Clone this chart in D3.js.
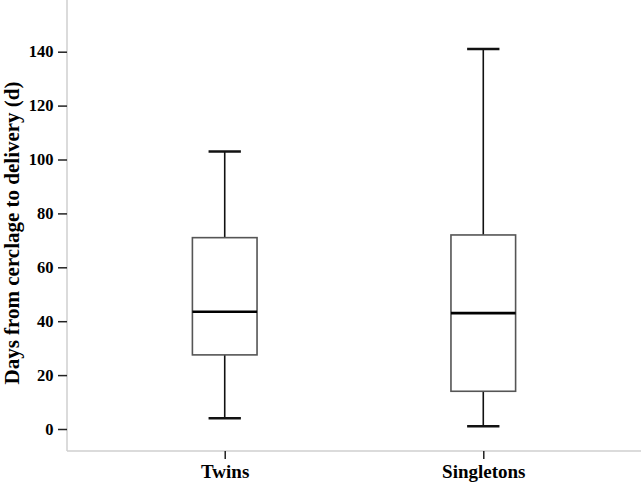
<!DOCTYPE html>
<html>
<head>
<meta charset="utf-8">
<script src="https://cdn.jsdelivr.net/npm/d3@7"></script>
<style>
  html, body { margin: 0; padding: 0; background: #fff; }
  svg { display: block; }
  text { font-family: "Liberation Serif", "Times New Roman", serif; font-weight: bold; fill: #000; }
</style>
</head>
<body>
<svg id="chart" width="644" height="488"></svg>
<script>
const categories = ["Twins", "Singletons"];
const whiskerLow = [4, 1];
const q1 = [27.5, 14];
const median = [43.5, 43];
const q3 = [71, 72];
const whiskerHigh = [103, 141];
const yTicks = [0, 20, 40, 60, 80, 100, 120, 140];
const yTitle = "Days from cerclage to delivery (d)";

const data = categories.map((c, i) => ({
  cat: c, lo: whiskerLow[i], q1: q1[i], med: median[i], q3: q3[i], hi: whiskerHigh[i]
}));

const svg = d3.select("#chart");
const plotLeft = 67, plotRight = 641, axisY = 451, plotTop = 0;

const x = d3.scalePoint().domain(categories).range([plotLeft, plotRight]).padding(0.61);
const y = d3.scaleLinear().domain([0, 140]).range([429, 51.7]);
const boxW = x.step() * 0.25;
const capW = boxW * 0.5;

// axis frame lines
svg.append("line").attr("x1", plotLeft).attr("x2", plotLeft).attr("y1", plotTop).attr("y2", axisY)
  .attr("stroke", "#cfcfcf").attr("stroke-width", 1.5);
svg.append("line").attr("x1", plotLeft).attr("x2", plotRight).attr("y1", axisY).attr("y2", axisY)
  .attr("stroke", "#cfcfcf").attr("stroke-width", 1.5);

// y axis ticks
const yAxis = d3.axisLeft(y).tickValues(yTicks).tickSize(9).tickPadding(4.5);
const gy = svg.append("g").attr("transform", `translate(${plotLeft},0)`).call(yAxis);
gy.select(".domain").remove();
gy.selectAll(".tick line").attr("stroke", "#222").attr("stroke-width", 1.5);
gy.selectAll(".tick text").attr("font-size", 16.5).attr("font-family", "Liberation Serif").attr("font-weight", "bold").attr("fill", "#000");

// x axis ticks
const xAxis = d3.axisBottom(x).tickSize(8).tickPadding(6);
const gx = svg.append("g").attr("transform", `translate(0,${axisY})`).call(xAxis);
gx.select(".domain").remove();
gx.selectAll(".tick line").attr("stroke", "#222").attr("stroke-width", 1.5);
gx.selectAll(".tick text").attr("font-size", 19).attr("font-family", "Liberation Serif").attr("font-weight", "bold").attr("fill", "#000");

// y title
svg.append("text")
  .attr("transform", `translate(19,${(80 + 386) / 2}) rotate(-90)`)
  .attr("text-anchor", "middle")
  .attr("font-size", 21)
  .text(yTitle);

// boxes
const g = svg.append("g");
const b = g.selectAll("g.box").data(data).join("g").attr("class", "box");
// whiskers
b.append("line").attr("x1", d => x(d.cat)).attr("x2", d => x(d.cat))
  .attr("y1", d => y(d.hi)).attr("y2", d => y(d.q3)).attr("stroke", "#111").attr("stroke-width", 1.6);
b.append("line").attr("x1", d => x(d.cat)).attr("x2", d => x(d.cat))
  .attr("y1", d => y(d.q1)).attr("y2", d => y(d.lo)).attr("stroke", "#111").attr("stroke-width", 1.6);
// caps
b.append("line").attr("x1", d => x(d.cat) - capW / 2).attr("x2", d => x(d.cat) + capW / 2)
  .attr("y1", d => y(d.hi)).attr("y2", d => y(d.hi)).attr("stroke", "#111").attr("stroke-width", 2.5);
b.append("line").attr("x1", d => x(d.cat) - capW / 2).attr("x2", d => x(d.cat) + capW / 2)
  .attr("y1", d => y(d.lo)).attr("y2", d => y(d.lo)).attr("stroke", "#111").attr("stroke-width", 2.5);
// box
b.append("rect").attr("x", d => x(d.cat) - boxW / 2).attr("width", boxW)
  .attr("y", d => y(d.q3)).attr("height", d => y(d.q1) - y(d.q3))
  .attr("fill", "#fff").attr("stroke", "#555").attr("stroke-width", 1.6);
// median
b.append("line").attr("x1", d => x(d.cat) - boxW / 2).attr("x2", d => x(d.cat) + boxW / 2)
  .attr("y1", d => y(d.med)).attr("y2", d => y(d.med)).attr("stroke", "#000").attr("stroke-width", 2.6);
</script>
</body>
</html>
